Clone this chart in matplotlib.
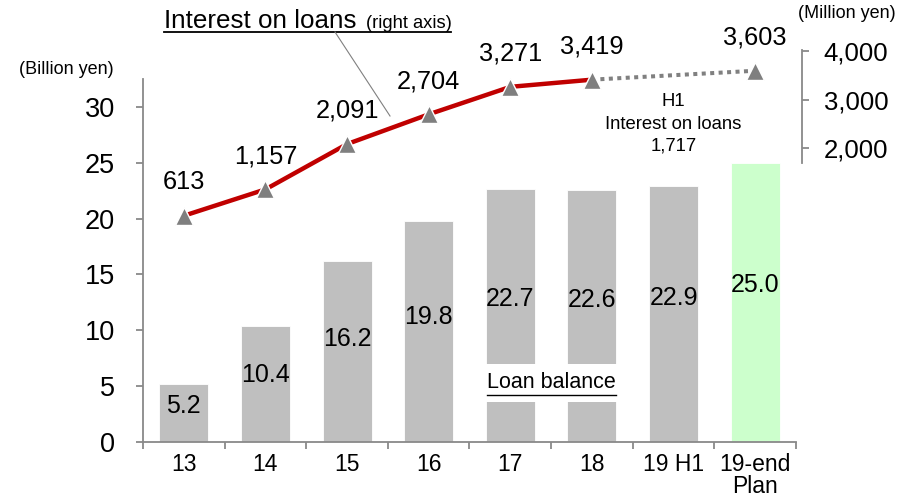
import matplotlib
matplotlib.use("Agg")
import matplotlib.pyplot as plt
from matplotlib.lines import Line2D

plt.rcParams['font.family'] = ['Liberation Sans', 'DejaVu Sans']

# -----------------------------
# Data
# -----------------------------
categories = ["13", "14", "15", "16", "17", "18", "19 H1", "19-end\nPlan"]
loan_balance = [5.2, 10.4, 16.2, 19.8, 22.7, 22.6, 22.9, 25.0]
bar_colors = ["#BFBFBF"] * 7 + ["#CCFFCC"]

interest_idx = [0, 1, 2, 3, 4, 5]
interest = [613, 1157, 2091, 2704, 3271, 3419]
plan_idx = 7
plan_interest = 3603
h1_idx = 6
h1_interest = 1717

# -----------------------------
# Figure setup
# -----------------------------
W, H = 900, 497
fig = plt.figure(figsize=(W / 100, H / 100), dpi=100)
ax_bottom_px = 441.7
ax_top_px = 30
ax = fig.add_axes([143 / W, (H - ax_bottom_px) / H, 653 / W, (ax_bottom_px - ax_top_px) / H])
ax2 = ax.twinx()

x = list(range(len(categories)))

# bars (left axis)
ax.bar(x, loan_balance, width=0.6, color=bar_colors, edgecolor="white", linewidth=0.6, zorder=2)
ax.set_xlim(-0.5, len(categories) - 0.5)
ax.set_ylim(0, 36.93)

for i, v in zip(x, loan_balance):
    ax.text(i, 0.55 * v + 0.3, f"{v:.1f}", ha="center", va="center", fontsize=18, zorder=4)

# spines / ticks
spine_col = "#898989"
for s in ["top", "right"]:
    ax.spines[s].set_visible(False)
ax.spines["left"].set_bounds(0, 32.5)
ax.spines["left"].set_color(spine_col)
ax.spines["bottom"].set_color(spine_col)
ax.spines["left"].set_linewidth(1.3)
ax.spines["bottom"].set_linewidth(1.3)

ax.set_yticks([0, 5, 10, 15, 20, 25, 30])
ax.tick_params(axis="y", direction="out", length=5, width=1.3, color=spine_col,
               labelsize=19.5, pad=15)
ax.set_xticks([i - 0.5 for i in range(len(categories) + 1)])
ax.set_xticklabels([])
ax.set_xticks(x, minor=True)
ax.set_xticklabels(categories, minor=True, fontsize=16.5, linespacing=0.95)
ax.tick_params(axis="x", which="major", direction="out", length=5, width=1.3, color=spine_col)
ax.tick_params(axis="x", which="minor", length=0, pad=8)

# line (right axis)
ax2.set_ylim(-4045, 4443)
for s in ["top", "left", "bottom"]:
    ax2.spines[s].set_visible(False)
ax2.spines["right"].set_bounds(1700, 4030)
ax2.spines["right"].set_position(("outward", 4))
ax2.spines["right"].set_color(spine_col)
ax2.spines["right"].set_linewidth(1.3)
ax2.set_yticks([2000, 3000, 4000])
ax2.set_yticklabels([f"{t:,}" for t in [2000, 3000, 4000]])
ax2.tick_params(axis="y", direction="out", length=5, width=1.3, color=spine_col,
                labelsize=18.5, pad=11)

ax2.plot([interest_idx[-1], plan_idx], [interest[-1], plan_interest], color="#808080",
         lw=2.9, ls=(0, (1, 1.1)), zorder=3)
ax2.plot(interest_idx, interest, color="#C00000", lw=3.2, zorder=4, solid_capstyle="butt")
ax2.plot(interest_idx + [plan_idx], interest + [plan_interest], ls="none", marker="^",
         ms=13, mfc="#7F7F7F", mec="white", mew=1.0, zorder=5)

for i, v in zip(interest_idx + [plan_idx], interest + [plan_interest]):
    ax2.annotate(f"{v:,}", (i, v), xytext=(0, 24), textcoords="offset points",
                 ha="center", va="center", fontsize=18.3)

ax2.text(h1_idx, 2505, f"H1\nInterest on loans\n{h1_interest:,}", ha="center", va="center",
         fontsize=13.3, linespacing=1.4)

# loan balance label with white box
lb = ax.text(4.5, 5.3, "Loan balance", ha="center", va="center", fontsize=15.5, zorder=3,
             bbox=dict(boxstyle="square,pad=0.4", fc="white", ec="none"))

# unit labels
fig.text(66 / W, 1 - 69 / H, "(Billion yen)", ha="center", va="center", fontsize=13)
fig.text(847 / W, 1 - 14 / H, "(Million yen)", ha="center", va="center", fontsize=13)

# title
t1 = fig.text(164 / W, 1 - 28 / H, "Interest on loans", ha="left", va="baseline", fontsize=18.7)

fig.canvas.draw()
renderer = fig.canvas.get_renderer()
bb1 = t1.get_window_extent(renderer)
t2 = fig.text((bb1.x1 + 9) / W, 1 - 28 / H, "(right axis)", ha="left", va="baseline", fontsize=13.2)
fig.canvas.draw()
bb2 = t2.get_window_extent(renderer)

# underlines
ul_y = (H - 32) / H
fig.add_artist(Line2D([bb1.x0 / W, bb2.x1 / W], [ul_y, ul_y], color="black", lw=1.3))

bbl = lb.get_window_extent(renderer)
_, _, d = renderer.get_text_width_height_descent("Loan balance", lb.get_fontproperties(), ismath=False)
base = bbl.y0 + d - 2
fig.add_artist(Line2D([bbl.x0 / W, bbl.x1 / W], [base / H, base / H], color="black", lw=1.0))

# leader line from title to the line
fig.add_artist(Line2D([335 / W, 390 / W], [1 - 32 / H, 1 - 116 / H], color="#808080", lw=0.8))

fig.savefig("out.png", dpi=100)
